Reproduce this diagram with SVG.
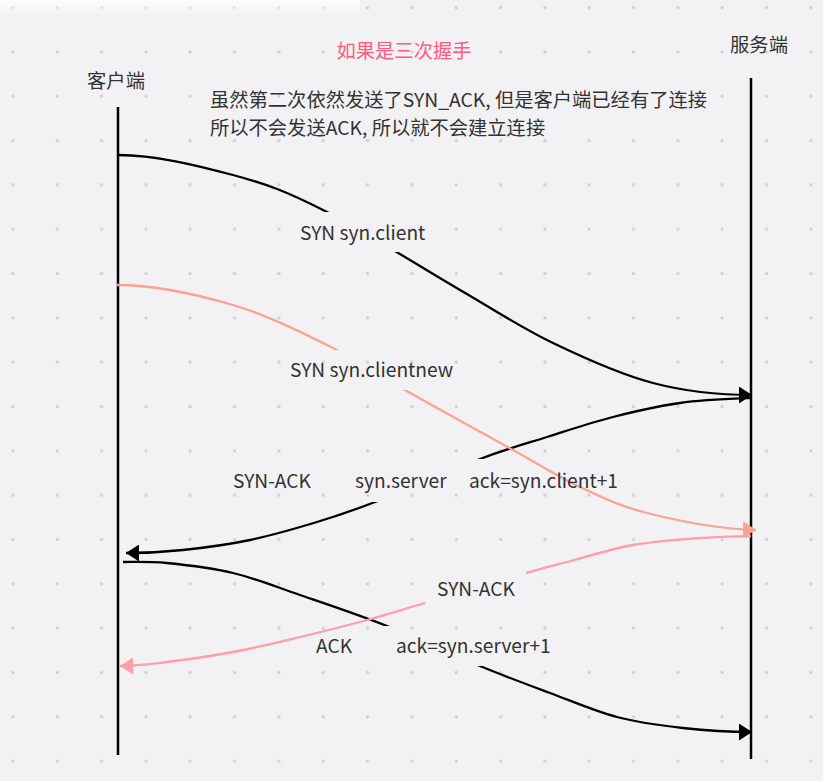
<svg xmlns="http://www.w3.org/2000/svg" width="823" height="781" viewBox="0 0 823 781">
<style>
  .t{font-family:"Noto Sans CJK SC","Noto Sans",sans-serif;fill:#333333;}
  .lbl{font-size:19.2px;}
  .cn{font-size:19.3px;}
  .life{stroke:#000;stroke-width:2.5;fill:none;}
  .blk{stroke:#000;stroke-width:2.3;fill:none;marker-end:url(#ab);}
  .sal{stroke:#ffa192;stroke-width:2.3;fill:none;marker-end:url(#as);}
  .pnk{stroke:#ff9ea6;stroke-width:2.3;fill:none;marker-end:url(#ap);}
</style>
<defs>
  <pattern id="grid" patternUnits="userSpaceOnUse" x="0" y="0" width="44.33" height="44.33">
    <rect x="11.5" y="6.2" width="2.8" height="2.8" fill="#cdcdd1"/>
  </pattern>
  <linearGradient id="glow" x1="0" y1="0" x2="0" y2="1">
    <stop offset="0" stop-color="#ffffff" stop-opacity="0.8"/>
    <stop offset="1" stop-color="#ffffff" stop-opacity="0"/>
  </linearGradient>
  <marker id="ab" markerUnits="userSpaceOnUse" viewBox="0 0 13 17" markerWidth="13" markerHeight="17" refX="13" refY="8.5" orient="auto">
    <path d="M0,0 L13,8.5 L0,17 Z" fill="#000"/>
  </marker>
  <marker id="as" markerUnits="userSpaceOnUse" viewBox="0 0 13 17" markerWidth="13" markerHeight="17" refX="13" refY="8.5" orient="auto">
    <path d="M0,0 L13,8.5 L0,17 Z" fill="#ffa192"/>
  </marker>
  <marker id="ap" markerUnits="userSpaceOnUse" viewBox="0 0 13 17" markerWidth="13" markerHeight="17" refX="13" refY="8.5" orient="auto">
    <path d="M0,0 L13,8.5 L0,17 Z" fill="#ff9ea6"/>
  </marker>
  <mask id="m1" maskUnits="userSpaceOnUse" x="0" y="0" width="823" height="781">
    <rect width="823" height="781" fill="#fff"/><rect x="292" y="212" width="141" height="40" fill="#000"/>
  </mask>
  <mask id="m2" maskUnits="userSpaceOnUse" x="0" y="0" width="823" height="781">
    <rect width="823" height="781" fill="#fff"/><rect x="282" y="350" width="179" height="40" fill="#000"/>
  </mask>
  <mask id="m3" maskUnits="userSpaceOnUse" x="0" y="0" width="823" height="781">
    <rect width="823" height="781" fill="#fff"/><rect x="225" y="459" width="401" height="43" fill="#000"/>
  </mask>
  <mask id="m4" maskUnits="userSpaceOnUse" x="0" y="0" width="823" height="781">
    <rect width="823" height="781" fill="#fff"/><rect x="425" y="568" width="101" height="40" fill="#000"/>
  </mask>
  <mask id="m5" maskUnits="userSpaceOnUse" x="0" y="0" width="823" height="781">
    <rect width="823" height="781" fill="#fff"/><rect x="305" y="626" width="258" height="40" fill="#000"/>
  </mask>
</defs>

<rect width="823" height="781" fill="#f2f2f5"/>
<rect width="823" height="781" fill="url(#grid)"/>
<rect x="0" y="0" width="360" height="16" fill="url(#glow)"/>

<g id="title">
  <text class="t" x="404" y="58" font-size="19.3" text-anchor="middle" style="fill:#ff5a7f">如果是三次握手</text>
</g>
<g id="note">
  <text class="t cn" x="210" y="106.5">虽然第二次依然发送了SYN_ACK, 但是客户端已经有了连接</text>
  <text class="t cn" x="210" y="134.5">所以不会发送ACK, 所以就不会建立连接</text>
</g>

<g id="client">
  <text class="t cn" x="116" y="87.5" text-anchor="middle">客户端</text>
  <line class="life" x1="118" y1="107" x2="118" y2="755"/>
</g>
<g id="server">
  <text class="t cn" x="759" y="51.5" text-anchor="middle">服务端</text>
  <line class="life" x1="751" y1="78" x2="751" y2="759"/>
</g>

<g id="connectors">
  <path class="blk" mask="url(#m1)" d="M118,155 C156,155 198.5,165.7 233,175 C267.5,184.3 287.2,191.8 325,211 C362.8,230.2 422,268 460,290 C498,312 520.8,327.5 553,343 C585.2,358.5 620,374.3 653,383 C686,391.7 718,395 752,395"/>
  <path class="blk" mask="url(#m3)" d="M751,398 C727,399 703,399.8 680,403 C657,406.2 635.2,411.3 613,417 C590.8,422.7 569.2,430 547,437 C524.8,444 508.7,448.2 480,459 C451.3,469.8 402.2,491.5 375,502 C347.8,512.5 337.8,515.7 317,522 C296.2,528.3 272.3,535.3 250,540 C227.7,544.7 203.5,547.8 183,550 C162.5,552.2 146,553 126,553"/>
  <path class="sal" mask="url(#m2)" d="M117,285 C155.7,285 196.3,294.2 233,305 C269.7,315.8 308.3,335.8 337,350 C365.7,364.2 375.7,373.3 405,390 C434.3,406.7 483.8,433.8 513,450 C542.2,466.2 557.7,476.5 580,487 C602.3,497.5 618.5,505.8 647,513 C675.5,520.2 716,529 756,530"/>
  <path class="blk" mask="url(#m5)" d="M123,562 C138,562 148.7,561.5 167,563 C185.3,564.8 210.8,567.7 233,573 C255.2,578.3 274.3,586.2 300,595 C325.7,603.8 357,614.2 387,626 C417,637.8 452.8,654.8 480,666 C507.2,677.2 527.2,684.5 550,693 C572.8,701.5 594.8,711.2 617,717 C639.2,722.8 660.7,725.5 683,728 C705.3,730.5 729,732 752,732"/>
  <path class="pnk" mask="url(#m4)" d="M751,536 C734,536.5 719.7,536.5 700,538 C680.3,539.5 655.2,541 633,545 C610.8,549 584.8,557.3 567,562 C549.2,566.7 549.7,566.2 526,573 C502.3,579.8 451.5,595.2 425,603 C398.5,610.8 387.8,614.3 367,620 C346.2,625.7 322.3,631.7 300,637 C277.7,642.3 255.2,647.8 233,652 C210.8,656.2 185.7,659.7 167,662 C148.3,664.3 136,666 120,666"/>
</g>

<g id="labels">
  <text class="t lbl" x="300" y="240">SYN syn.client</text>
  <text class="t lbl" x="290" y="377">SYN syn.clientnew</text>
  <text class="t lbl" y="488"><tspan x="233">SYN-ACK</tspan><tspan x="355">syn.server</tspan><tspan x="469">ack=syn.client+1</tspan></text>
  <text class="t lbl" x="437" y="596">SYN-ACK</text>
  <text class="t lbl" y="653"><tspan x="316">ACK</tspan><tspan x="396">ack=syn.server+1</tspan></text>
</g>
</svg>
